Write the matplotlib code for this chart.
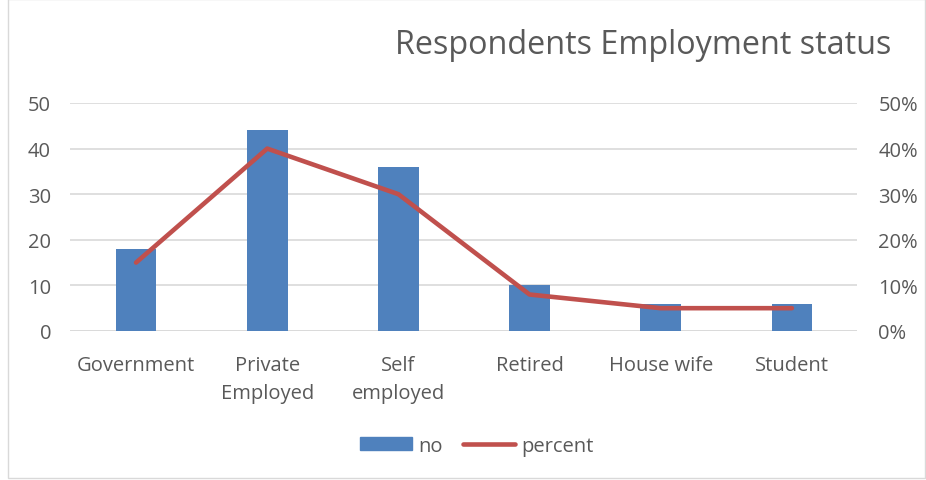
import matplotlib
matplotlib.use("Agg")
import matplotlib.pyplot as plt
from matplotlib.patches import Rectangle
from matplotlib.lines import Line2D
from matplotlib.ticker import FuncFormatter
import numpy as np

categories = ["Government", "Private\nEmployed", "Self\nemployed", "Retired", "House wife", "Student"]
counts = [18, 44, 36, 10, 6, 6]
percent = [15, 40, 30, 8, 5, 5]

plt.rcParams['font.family'] = ['Open Sans', 'DejaVu Sans']
text_color = "#595959"
bar_color = "#4f81bd"
line_color = "#c0504d"
grid_color = "#d9d9d9"

fig = plt.figure(figsize=(9.26, 4.81), dpi=100)
ax = fig.add_axes([0.0761, 0.3098, 0.8499, 0.4740])
ax2 = ax.twinx()

x = np.arange(len(categories))
ax.bar(x, counts, width=0.31, color=bar_color, zorder=2)
ax2.plot(x, percent, color=line_color, linewidth=3.3, solid_capstyle="round",
         solid_joinstyle="round", zorder=3)

ax.set_xlim(-0.5, len(categories) - 0.5)
ax.set_ylim(0, 50)
ax2.set_ylim(0, 50)
ax.set_yticks(range(0, 51, 10))
ax2.set_yticks(range(0, 51, 10))
ax2.yaxis.set_major_formatter(FuncFormatter(lambda v, p: f"{int(v)}%"))

ax.yaxis.grid(True, color=grid_color, linewidth=1.2, zorder=0)
ax.set_axisbelow(True)
ax.set_xticks(x)
ax.set_xticklabels(categories, linespacing=1.55)

for a in (ax, ax2):
    for s in a.spines.values():
        s.set_visible(False)
    a.tick_params(length=0, labelsize=14.5, labelcolor=text_color)
ax.tick_params(axis="y", pad=14)
ax2.tick_params(axis="y", pad=15)
ax.tick_params(axis="x", pad=17)
ax.axhline(0, color=grid_color, linewidth=1.2, zorder=1)
ax2.set_zorder(ax.get_zorder() + 1)
ax2.patch.set_visible(False)

fig.text(0.695, 1 - 54 / 481, "Respondents Employment status", ha="center", va="baseline",
         fontsize=23.3, color=text_color)

handles = [Rectangle((0, 0), 1, 1, color=bar_color),
           Line2D([0], [0], color=line_color, linewidth=3.3, solid_capstyle="round")]
fig.legend(handles, ["no", "percent"], loc="center", bbox_to_anchor=(0.515, 0.071),
           ncol=2, frameon=False, fontsize=14.5, labelcolor=text_color,
           handlelength=2.6, handleheight=0.6, handletextpad=0.3, columnspacing=1.0)

fig.patches.append(Rectangle((0.009, 0.004), 0.99, 0.995, transform=fig.transFigure,
                             fill=False, edgecolor="#d9d9d9", linewidth=1))

fig.savefig("out.png", dpi=100)
